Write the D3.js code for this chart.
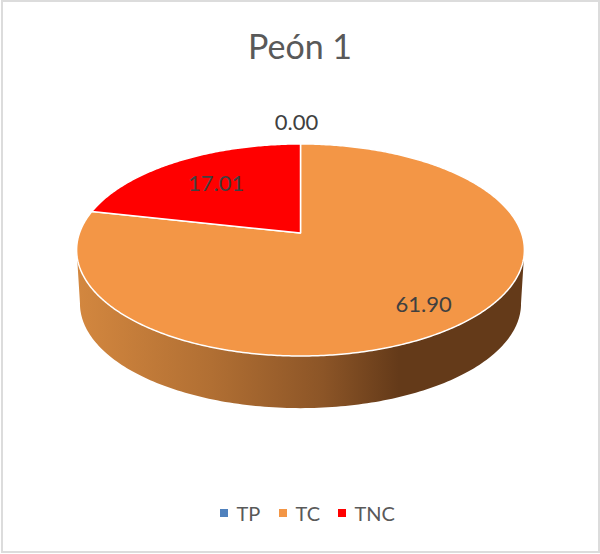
<!DOCTYPE html>
<html>
<head>
<meta charset="utf-8">
<script src="https://cdn.jsdelivr.net/npm/d3@7"></script>
<style>
    html, body { margin: 0; padding: 0; background: #fff; }
    text { font-family: Lato, "Open Sans", sans-serif; }
</style>
</head>
<body>
<div id="chart"></div>
<script>
const categories = ['TP', 'TC', 'TNC'];
const seriesValues = [0.00, 61.90, 17.01];
const colors = ['#4f81bd', '#f39646', '#ff0000'];
const chartTitle = 'Peón 1';

const width = 600, height = 554;

// perspective of the tilted disc
const cx = 300.5, cy = 233;
const rimA = 221, rimB = 103.3, persp = 0.16;
const depth = 54;

function project(angle, r, dy, shrink) {
    r = r === undefined ? 1 : r;
    dy = dy || 0;
    shrink = shrink || 1;
    const u = Math.sin(angle) * r;
    const v = -Math.cos(angle) * r;
    const w = 1 - persp * v;
    return [cx + rimA * shrink * u / w, cy + dy + rimB * shrink * v / w];
}

const svg = d3.select('#chart').append('svg')
    .attr('width', width)
    .attr('height', height)
    .style('display', 'block');

// chart frame
svg.append('rect')
    .attr('x', 2).attr('y', 1)
    .attr('width', 597).attr('height', 551)
    .attr('fill', '#fff')
    .attr('stroke', '#dcdcdc')
    .attr('stroke-width', 2);

svg.append('text')
    .attr('x', width / 2)
    .attr('y', 59)
    .attr('text-anchor', 'middle')
    .attr('font-size', 34)
    .attr('fill', '#595959')
    .text(chartTitle);

const pie = d3.pie().sort(null)(seriesValues);
const line = d3.line();

// side wall with its horizontal shading
const defs = svg.append('defs');
const grad = defs.append('linearGradient')
    .attr('id', 'wall')
    .attr('gradientUnits', 'userSpaceOnUse')
    .attr('x1', 77).attr('x2', 524)
    .attr('y1', 0).attr('y2', 0);
grad.append('stop').attr('offset', '0').attr('stop-color', '#d3873f');
grad.append('stop').attr('offset', '0.3').attr('stop-color', '#b16f33');
grad.append('stop').attr('offset', '0.55').attr('stop-color', '#8c5527');
grad.append('stop').attr('offset', '0.72').attr('stop-color', '#643a19');
grad.append('stop').attr('offset', '1').attr('stop-color', '#643a19');

// front half, from widest point to widest point
const steps = d3.range(99, 262).map(i => i * Math.PI / 180);
const lower = steps.map(a => project(a, 1, depth, 0.985));
const upper = steps.map(a => project(a)).reverse();
svg.append('path')
    .attr('d', line(lower.concat(upper)) + 'Z')
    .attr('fill', 'url(#wall)');

// top of the disc
svg.append('g').selectAll('path')
    .data(pie)
    .enter()
    .filter(d => d.value > 0)
    .append('path')
    .attr('d', d => {
        const n = Math.ceil((d.endAngle - d.startAngle) * 90);
        const rim = d3.range(n + 1).map(i => project(d.startAngle + (d.endAngle - d.startAngle) * i / n));
        return line([[cx, cy]].concat(rim)) + 'Z';
    })
    .attr('fill', d => colors[d.index])
    .attr('stroke', '#fff')
    .attr('stroke-width', 1.5)
    .attr('stroke-linejoin', 'round');

// data labels
const labelRadius = [1.28, 0.8, 0.66];
const labelShift = [-4, 0, 0];
svg.append('g').selectAll('text')
    .data(pie)
    .enter()
    .append('text')
    .attr('x', d => project((d.startAngle + d.endAngle) / 2, labelRadius[d.index])[0] + labelShift[d.index])
    .attr('y', d => project((d.startAngle + d.endAngle) / 2, labelRadius[d.index])[1] + 7)
    .attr('text-anchor', 'middle')
    .attr('font-size', 22)
    .attr('fill', '#404040')
    .text(d => d.value.toFixed(2));

// legend
const legendX = d3.scalePoint().domain(categories).range([220, 338]);
const legend = svg.append('g').selectAll('g')
    .data(categories)
    .enter()
    .append('g')
    .attr('transform', d => 'translate(' + legendX(d) + ',509)');
legend.append('rect')
    .attr('width', 8)
    .attr('height', 8)
    .attr('fill', (d, i) => colors[i]);
legend.append('text')
    .attr('x', 16.5)
    .attr('y', 12)
    .attr('font-size', 20)
    .attr('fill', '#595959')
    .text(d => d);
</script>
</body>
</html>
